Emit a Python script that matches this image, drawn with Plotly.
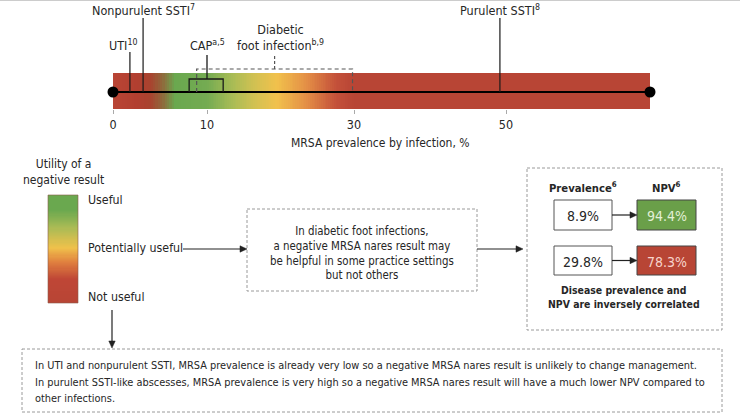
import numpy as np
import plotly.graph_objects as go

W, H = 740, 419

# ---------------- data ----------------
INFECTIONS = ["UTI", "Nonpurulent SSTI", "CAP", "Diabetic foot infection", "Purulent SSTI"]
LABELS = ["UTI<sup>10</sup>", "Nonpurulent SSTI<sup>7</sup>", "CAP<sup>a,5</sup>",
          "Diabetic<br>foot infection<sup>b,9</sup>", "Purulent SSTI<sup>8</sup>"]
PREVALENCE = [1.8, 3.2, 10.0, 19.4, 49.2]
PREV_LOW = [None, None, 8.1, 8.9, None]
PREV_HIGH = [None, None, 12.2, 29.8, None]
TICK_VALUES = [0, 10, 30, 50]
TICK_TEXT = ["0", "10", "30", "50"]
SCALE_MIN, SCALE_MAX = 0, 70
PREV_ROWS = ["8.9%", "29.8%"]
NPV_ROWS = ["94.4%", "78.3%"]
UTILITY_LABELS = ["Useful", "Potentially useful", "Not useful"]

# ---------------- styling / layout ----------------
FONT = "DejaVu Sans Condensed, Roboto, sans-serif"
TXT = "#262626"
DASH_C = "#9a9a9a"
RED = "#b84535"
GREEN = "#6a9f49"

# piecewise display scale of the prevalence axis (axis drawn in screen units)
SCALE_BREAKS = [0, 10, 30, 50, 70]
SCALE_POS = [113, 207, 354, 506, 650]


def to_axis(v):
    return float(np.interp(v, SCALE_BREAKS, SCALE_POS))


BAR_STOPS = [(0, "#b94535"), (2.5, "#b23f30"), (4.0, "#a8432f"), (5.3, "#8f6a3c"),
             (6.6, "#6aa84f"), (10.0, "#74ab52"), (13.5, "#a9bc55"), (16.5, "#d2c152"),
             (19.5, "#f1c14c"), (23.5, "#e48f46"), (27.5, "#c4513a"), (30, "#b84535"),
             (70, "#b84535")]
bar_cs = [[v / SCALE_MAX, c] for v, c in BAR_STOPS]

AXIS_Y = 92
BAR_TOP, BAR_BOT = 73, 109
STEM_TOP = [52, 18, 55, 54, 18]
LABEL_Y = [45, 10, 45, 37, 10]
LABEL_DX = [-7, 0, 0, 6, 0]

fig = go.Figure()

# gradient bar
edges = np.linspace(SCALE_MIN, SCALE_MAX, 281)
mids = (edges[:-1] + edges[1:]) / 2
fig.add_trace(go.Heatmap(
    x=[to_axis(e) for e in edges], y=[BAR_TOP, BAR_BOT], z=[mids],
    colorscale=bar_cs, zmin=SCALE_MIN, zmax=SCALE_MAX, showscale=False,
    hoverinfo="skip", xaxis="x", yaxis="y"))

# axis line with end dots
fig.add_trace(go.Scatter(
    x=[to_axis(SCALE_MIN), to_axis(SCALE_MAX)], y=[AXIS_Y, AXIS_Y],
    mode="lines+markers", line=dict(color="black", width=2),
    marker=dict(size=11, color="black"), hoverinfo="skip", xaxis="x", yaxis="y"))

# stems and intervals
for i, name in enumerate(INFECTIONS):
    xv = to_axis(PREVALENCE[i])
    lo, hi = PREV_LOW[i], PREV_HIGH[i]
    if name == "CAP":
        xl, xh = to_axis(lo), to_axis(hi)
        box_top = 79
        fig.add_trace(go.Scatter(x=[xl, xl, xh, xh], y=[AXIS_Y, box_top, box_top, AXIS_Y],
                                 mode="lines", line=dict(color="#1a1a1a", width=1.3),
                                 hoverinfo="skip", xaxis="x", yaxis="y"))
        fig.add_trace(go.Scatter(x=[xv, xv], y=[box_top, STEM_TOP[i]], mode="lines",
                                 line=dict(color="#1a1a1a", width=1.3),
                                 hoverinfo="skip", xaxis="x", yaxis="y"))
    elif lo is not None:
        xl, xh = to_axis(lo), to_axis(hi)
        box_top = 69
        xm = (xl + xh) / 2
        fig.add_trace(go.Scatter(x=[xl, xl, xh, xh], y=[AXIS_Y, box_top, box_top, AXIS_Y],
                                 mode="lines", line=dict(color="#555555", width=1.2, dash="4px,3px"),
                                 hoverinfo="skip", xaxis="x", yaxis="y"))
        fig.add_trace(go.Scatter(x=[xm, xm], y=[box_top, STEM_TOP[i]], mode="lines",
                                 line=dict(color="#555555", width=1.2, dash="3px,2px"),
                                 hoverinfo="skip", xaxis="x", yaxis="y"))
        xv = xm
    else:
        fig.add_trace(go.Scatter(x=[xv, xv], y=[AXIS_Y, STEM_TOP[i]], mode="lines",
                                 line=dict(color="#1a1a1a", width=1.2),
                                 hoverinfo="skip", xaxis="x", yaxis="y"))
    fig.add_annotation(x=xv, y=LABEL_Y[i], xref="x", yref="y", text=LABELS[i],
                       showarrow=False, xshift=LABEL_DX[i],
                       font=dict(family=FONT, size=12.5, color=TXT))

# legend gradient (utility of a negative result)
LEG_STOPS = [(0.0, "#b84535"), (0.22, "#bf4636"), (0.38, "#e0813f"), (0.51, "#f0c14b"),
             (0.70, "#a9bb55"), (0.86, "#6aa84f"), (1.0, "#6aa84f")]
ly = np.linspace(0, 1, 101)
fig.add_trace(go.Heatmap(
    x=[0, 1], y=ly, z=[[v] for v in (ly[:-1] + ly[1:]) / 2],
    colorscale=[[p, c] for p, c in LEG_STOPS], zmin=0, zmax=1, showscale=False,
    hoverinfo="skip", xaxis="x2", yaxis="y2"))

top_dom = [1 - BAR_BOT / H, 1]
fig.update_layout(
    width=W, height=H, margin=dict(l=0, r=0, t=0, b=0),
    paper_bgcolor="white", plot_bgcolor="rgba(0,0,0,0)", showlegend=False,
    xaxis=dict(range=[0, W], domain=[0, 1], showgrid=False, zeroline=False, showline=False,
               tickvals=[to_axis(v) for v in TICK_VALUES], ticktext=TICK_TEXT,
               ticks="outside", ticklen=4, tickcolor="#aaaaaa", tickwidth=1,
               tickfont=dict(family=FONT, size=12.5, color=TXT), fixedrange=True),
    yaxis=dict(range=[BAR_BOT, 0], domain=top_dom, visible=False, fixedrange=True),
    xaxis2=dict(range=[0, 1], domain=[48 / W, 78 / W], visible=False, anchor="y2"),
    yaxis2=dict(range=[0, 1], domain=[1 - 303 / H, 1 - 195 / H], visible=False, anchor="x2"),
)


def X(p):
    return p / W


def Y(p):
    return 1 - p / H


def text(x, y, s, size=12, color=TXT, xanchor="center", align="center", bold=False):
    if bold:
        s = "<b>" + s + "</b>"
    fig.add_annotation(x=X(x), y=Y(y), xref="paper", yref="paper", text=s, showarrow=False,
                       xanchor=xanchor, yanchor="middle", align=align,
                       font=dict(family=FONT, size=size, color=color))


def rect(x0, y0, x1, y1, dash=None, color=DASH_C, fill="rgba(0,0,0,0)", width=1):
    fig.add_shape(type="rect", xref="paper", yref="paper", x0=X(x0), x1=X(x1),
                  y0=Y(y0), y1=Y(y1), fillcolor=fill,
                  line=dict(color=color, width=width, dash=dash))


def arrow(x0, y0, x1, y1, head=7, half=3.2):
    """Straight arrow drawn as a line shape plus a filled triangular head."""
    dx, dy = x1 - x0, y1 - y0
    n = (dx * dx + dy * dy) ** 0.5
    ux, uy = dx / n, dy / n
    bx, by = x1 - ux * head, y1 - uy * head
    fig.add_shape(type="line", xref="paper", yref="paper", x0=X(x0), y0=Y(y0),
                  x1=X(bx), y1=Y(by), line=dict(color="#222222", width=1.2))
    pts = [(x1, y1), (bx - uy * half, by + ux * half), (bx + uy * half, by - ux * half)]
    path = "M " + " L ".join(f"{X(px):.5f},{Y(py):.5f}" for px, py in pts) + " Z"
    fig.add_shape(type="path", xref="paper", yref="paper", path=path,
                  fillcolor="#222222", line=dict(color="#222222", width=0.5))


# top border line
fig.add_shape(type="line", xref="paper", yref="paper", x0=0, x1=1, y0=Y(0.5), y1=Y(0.5),
              line=dict(color="#cccccc", width=1))

# axis title
text(381, 143, "MRSA prevalence by infection, %", size=12)

# legend
text(63, 172, "Utility of a<br>negative result", size=12)
for lab, yy in zip(UTILITY_LABELS, [200, 248, 297]):
    text(86, yy, lab, size=12.3, xanchor="left", align="left")
rect(48, 195, 78, 303, color="#8a5a4a", width=0.6)

# middle box
arrow(183, 249, 247, 249)
rect(247, 209, 477, 291, dash="3px,2px")
text(362, 253, "In diabetic foot infections,<br>a negative MRSA nares result may<br>"
     "be helpful in some practice settings<br>but not others", size=11.4)
arrow(477, 249, 523, 249)

# right box
rect(527, 168, 722, 330, dash="3px,2px")
text(583, 187, "Prevalence<sup>6</sup>", size=11.2, bold=True)
text(666, 187, "NPV<sup>6</sup>", size=11.2, bold=True)
rows_y = [(200, 230), (246, 275)]
npv_fill = [GREEN, RED]
npv_txt = ["#e2f0d6", "#f7d4cc"]
for (y0, y1), pv, npv, fc, tc in zip(rows_y, PREV_ROWS, NPV_ROWS, npv_fill, npv_txt):
    rect(554, y0, 612, y1, color="#555555", fill="white", width=1)
    rect(637, y0, 696, y1, color="#444444", fill=fc, width=1)
    text(583, (y0 + y1) / 2 + 1, pv, size=14)
    text(666.5, (y0 + y1) / 2 + 1, npv, size=14, color=tc)
    arrow(612, (y0 + y1) / 2, 637, (y0 + y1) / 2)
text(624, 297, "Disease prevalence and<br>NPV are inversely correlated", size=10.4, bold=True)

# bottom box
arrow(112, 310, 112, 348)
rect(22, 349, 722, 412, dash="3px,2px")
BOTTOM_LINES = [
    "In UTI and nonpurulent SSTI, MRSA prevalence is already very low so a negative "
    "MRSA nares result is unlikely to change management.",
    "In purulent SSTI-like abscesses, MRSA prevalence is very high so a negative MRSA "
    "nares result will have a much lower NPV compared to",
    "other infections.",
]
for line, yy in zip(BOTTOM_LINES, [365, 382, 398]):
    text(33, yy, line, size=10.9, xanchor="left", align="left")

fig.write_html("out.html", config={"displayModeBar": False},
               post_script="document.body.style.margin='0';")
